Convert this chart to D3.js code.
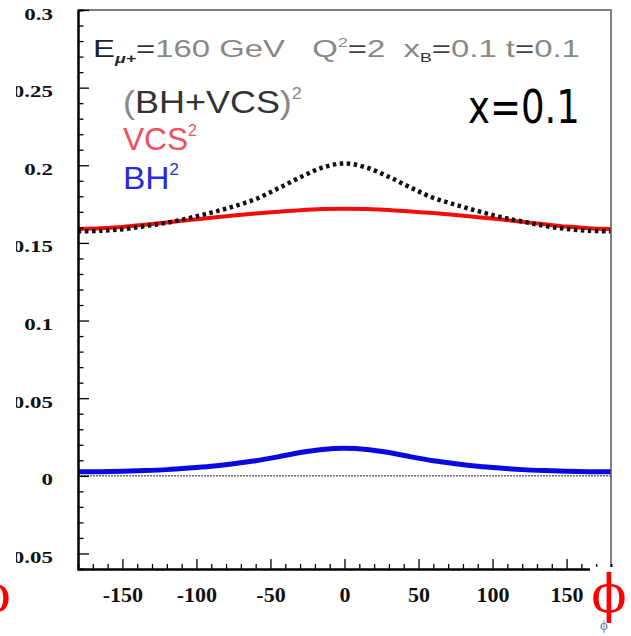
<!DOCTYPE html>
<html>
<head>
<meta charset="utf-8">
<script src="https://cdn.jsdelivr.net/npm/d3@7"></script>
<style>
  html, body { margin: 0; padding: 0; background: #fff; }
  svg { display: block; }
  text { white-space: pre; }
</style>
</head>
<body>
<div id="chart"></div>
<script>
// phi in degrees, sampled every 15
const phi = [-180, -165, -150, -135, -120, -105, -90, -75, -60, -45, -30, -15, 0,
             15, 30, 45, 60, 75, 90, 105, 120, 135, 150, 165, 180];
// (BH+VCS)^2, dotted black
const total = [0.1575, 0.1578, 0.1588, 0.1608, 0.1630, 0.1660, 0.1695, 0.1735, 0.1782, 0.1850, 0.1922, 0.1985, 0.2012,
               0.1985, 0.1925, 0.1855, 0.1790, 0.1746, 0.1705, 0.1668, 0.1638, 0.1610, 0.1590, 0.1578, 0.1575];
// VCS^2, red
const vcs = [0.1590, 0.1595, 0.1603, 0.1617, 0.1632, 0.1648, 0.1662, 0.1677, 0.1690, 0.1701, 0.1711, 0.1718, 0.1720,
             0.1718, 0.1712, 0.1702, 0.1692, 0.1680, 0.1666, 0.1652, 0.1636, 0.1620, 0.1605, 0.1595, 0.1590];
// BH^2, blue
const bh = [0.0026, 0.0027, 0.0030, 0.0034, 0.0040, 0.0050, 0.0062, 0.0078, 0.0097, 0.0122, 0.0150, 0.0170, 0.0177,
            0.0170, 0.0150, 0.0122, 0.0097, 0.0078, 0.0062, 0.0050, 0.0040, 0.0034, 0.0030, 0.0027, 0.0026];

const xMajor = [-150, -100, -50, 0, 50, 100, 150];
const yMajor = [-0.05, 0, 0.05, 0.1, 0.15, 0.2, 0.25, 0.3];

const width = 631, height = 636;
const mLeft = 78, mRight = 611, mTop = 10, mBottom = 569;

const svg = d3.select('#chart').append('svg')
  .attr('width', width)
  .attr('height', height);

const x = d3.scaleLinear().domain([-180, 180]).range([mLeft, mRight]);
const y = d3.scaleLinear().domain([-0.06, 0.3]).range([mBottom, mTop]);

// zero reference line
svg.append('line')
  .attr('x1', mLeft).attr('x2', mRight)
  .attr('y1', y(0)).attr('y2', y(0))
  .attr('stroke', '#222')
  .attr('stroke-width', 1)
  .attr('stroke-dasharray', '2,1');

const line = (vals) => d3.line()
  .x((d, i) => x(phi[i]))
  .y(d => y(d))
  .curve(d3.curveCatmullRom.alpha(0.5))(vals);

svg.append('path')
  .attr('d', line(vcs))
  .attr('fill', 'none')
  .attr('stroke', '#f20d0d')
  .attr('stroke-width', 4);

svg.append('path')
  .attr('d', line(total))
  .attr('fill', 'none')
  .attr('stroke', '#111')
  .attr('stroke-width', 4.5)
  .attr('stroke-dasharray', '3.5,3.5');

svg.append('path')
  .attr('d', line(bh))
  .attr('fill', 'none')
  .attr('stroke', '#0a0ae0')
  .attr('stroke-width', 5);

// frame: top and right in gray
svg.append('path')
  .attr('d', `M${mLeft},${mTop}H${mRight}V${mBottom}`)
  .attr('fill', 'none')
  .attr('stroke', '#555')
  .attr('stroke-width', 1.5);

// minor ticks (no labels)
const xMinor = d3.range(-170, 180, 10).filter(v => v % 50 !== 0);
const yMinor = d3.range(-6, 30, 1).filter(v => v % 5 !== 0).map(v => v / 100);

const serif = '"Liberation Serif", "Times New Roman", serif';

const gx = svg.append('g').attr('transform', `translate(0,${mBottom})`);
gx.append('g').call(d3.axisBottom(x).tickValues(xMinor).tickSize(-5).tickFormat(''))
  .selectAll('text').remove();
const gxMajor = gx.append('g')
  .call(d3.axisBottom(x).tickValues(xMajor).tickSizeInner(-10).tickSizeOuter(0));
gx.selectAll('.domain').attr('stroke', '#000').attr('stroke-width', 2);
gx.selectAll('line').attr('stroke', '#000').attr('stroke-width', 1.3);

gxMajor.selectAll('text')
  .attr('y', 0).attr('dy', null)
  .attr('transform', 'translate(0,32.5) scale(1.1,1)')
  .attr('font-family', serif)
  .attr('font-weight', 'bold')
  .attr('font-size', 20)
  .attr('fill', '#111')
  .text(d => d < 0 ? '-' + Math.abs(d) : d);

const gy = svg.append('g').attr('transform', `translate(${mLeft},0)`);
gy.append('g').call(d3.axisLeft(y).tickValues(yMinor).tickSize(-5.5).tickFormat(''))
  .selectAll('text').remove();
const gyMajor = gy.append('g')
  .call(d3.axisLeft(y).tickValues(yMajor).tickSizeInner(-11).tickSizeOuter(0));
gy.selectAll('.domain').attr('stroke', '#000').attr('stroke-width', 2);
gy.selectAll('line').attr('stroke', '#000').attr('stroke-width', 1.3);

gyMajor.selectAll('text')
  .attr('x', 0).attr('dy', null)
  .attr('transform', 'translate(-25,9) scale(1.35,1)')
  .attr('font-family', serif)
  .attr('font-weight', 'bold')
  .attr('font-size', 17)
  .attr('fill', '#111')
  .text(d => d === 0 ? '0' : (d < 0 ? '-' : '') + String(Math.abs(d)));

// the picture is cropped on its left side: a blank strip hides the label starts
svg.append('rect')
  .attr('x', 0).attr('y', 0)
  .attr('width', 16).attr('height', height)
  .attr('fill', '#fff');

// white patch behind the phi symbol at the bottom right
svg.append('rect')
  .attr('x', 590).attr('y', 567)
  .attr('width', 41).attr('height', 69)
  .attr('fill', '#fff');

// helper: text stretched horizontally to a target width
function fitText(xPos, yPos, w, build) {
  const g = svg.append('g');
  const t = g.append('text').attr('x', 0).attr('y', 0);
  build(t);
  const bw = t.node().getBBox().width;
  g.attr('transform', `translate(${xPos},${yPos}) scale(${w / bw},1)`);
  return g;
}

const sans = '"Liberation Sans", Arial, sans-serif';

fitText(93, 57, 487, t => {
  t.attr('font-family', sans).attr('font-size', 24).attr('fill', '#888');
  t.append('tspan').attr('fill', '#222').text('E');
  t.append('tspan').attr('fill', '#222').attr('font-size', 13).attr('font-weight', 'bold')
    .attr('font-style', 'italic').attr('dy', 6).text('μ+');
  t.append('tspan').attr('fill', '#333').attr('dy', -6).text('=');
  t.append('tspan').text('160 GeV   Q');
  t.append('tspan').attr('font-size', 13).attr('dy', -10).text('2');
  t.append('tspan').attr('fill', '#444').attr('dy', 10).text('=');
  t.append('tspan').text('2  x');
  t.append('tspan').attr('fill', '#333').attr('font-size', 13).attr('dy', 5).text('B');
  t.append('tspan').attr('fill', '#444').attr('dy', -5).text('=');
  t.append('tspan').text('0.1 t');
  t.append('tspan').attr('fill', '#444').text('=');
  t.append('tspan').text('0.1');
});

fitText(123, 113, 179, t => {
  t.attr('font-family', sans).attr('font-size', 32).attr('fill', '#555');
  t.append('tspan').attr('fill', '#888').text('(');
  t.append('tspan').attr('fill', '#333').text('BH+VCS');
  t.append('tspan').attr('fill', '#888').text(')');
  t.append('tspan').attr('fill', '#888').attr('font-size', 16).attr('dy', -14).text('2');
});

fitText(123, 150, 74, t => {
  t.attr('font-family', sans).attr('font-size', 32).attr('fill', '#f0505e');
  t.append('tspan').text('VCS');
  t.append('tspan').attr('font-size', 16).attr('dy', -14).text('2');
});

fitText(123, 189, 56, t => {
  t.attr('font-family', sans).attr('font-size', 32).attr('fill', '#2a2ae0');
  t.append('tspan').text('BH');
  t.append('tspan').attr('font-size', 16).attr('dy', -14).text('2');
});

fitText(468, 123, 112, t => {
  t.attr('font-family', '"DejaVu Sans", sans-serif').attr('font-size', 46).attr('fill', '#000')
    .text('x=0.1');
});

// axis title (small gray phi) and the red phi markers
svg.append('text')
  .attr('x', 604).attr('y', 630)
  .attr('text-anchor', 'middle')
  .attr('font-family', serif)
  .attr('font-size', 15)
  .attr('fill', '#777')
  .text('ϕ');

svg.selectAll('.bigphi')
  .data([609, -7])
  .join('text')
  .attr('class', 'bigphi')
  .attr('x', d => d).attr('y', 612)
  .attr('text-anchor', 'middle')
  .attr('font-family', '"DejaVu Serif", "Liberation Serif", serif')
  .attr('font-size', 52)
  .attr('fill', '#f00')
  .text('ϕ');
</script>
</body>
</html>
